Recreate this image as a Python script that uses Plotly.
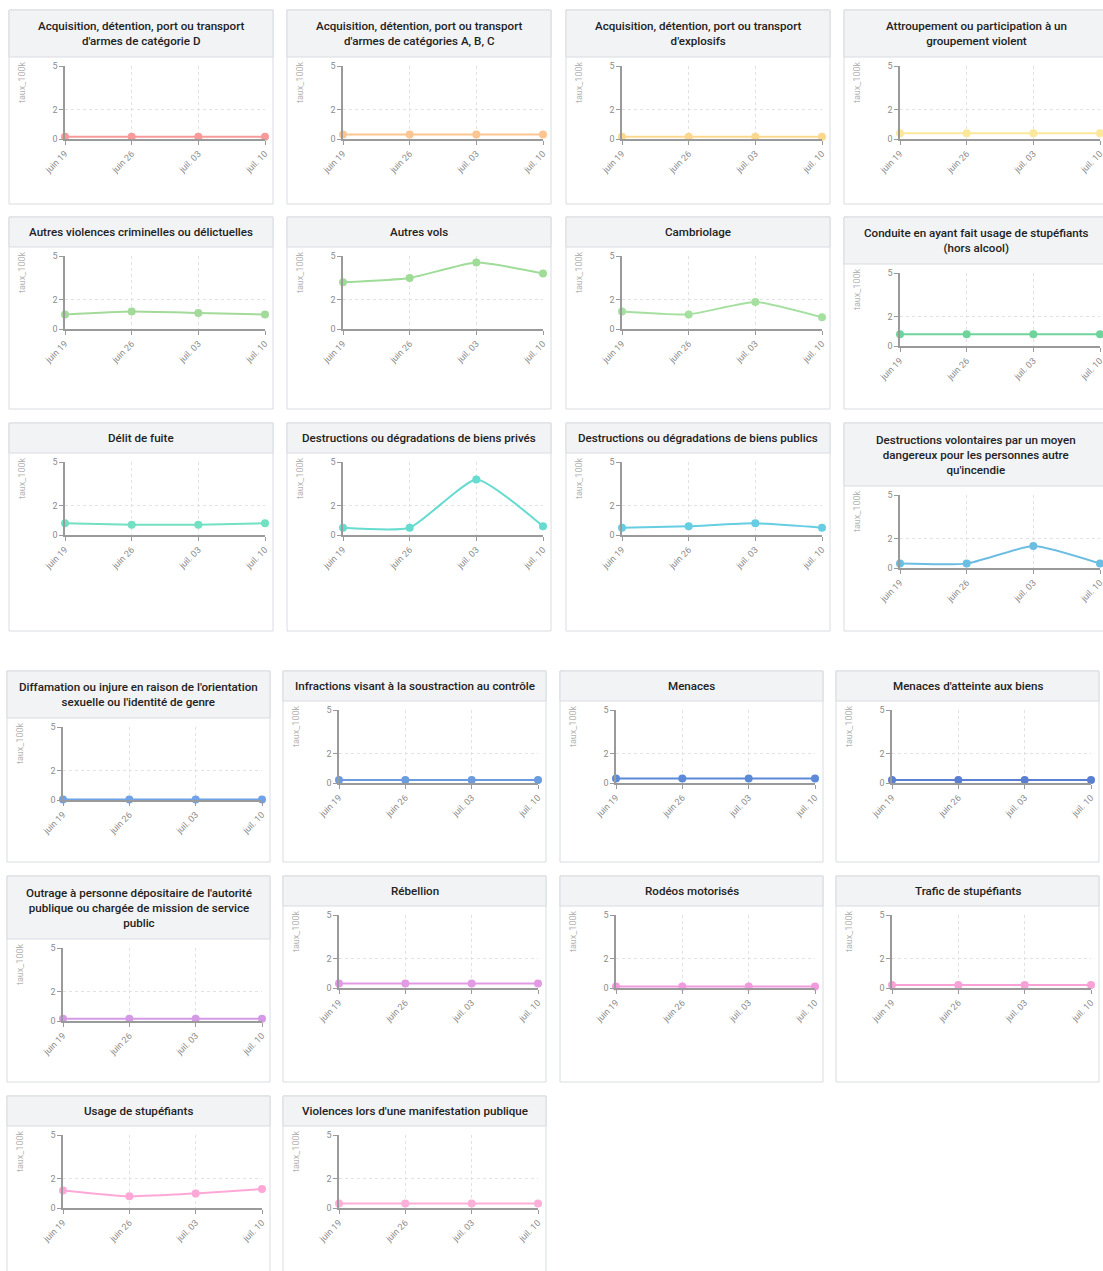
import plotly.graph_objects as go

W, H = 1103, 1271

# ---------------- data ----------------
weeks = ["juin 19", "juin 26", "juil. 03", "juil. 10"]
y_tickvals = [0, 2, 5]

categories = [
    "Acquisition, détention, port ou transport<br>d'armes de catégorie D",
    "Acquisition, détention, port ou transport<br>d'armes de catégories A, B, C",
    "Acquisition, détention, port ou transport<br>d'explosifs",
    "Attroupement ou participation à un<br>groupement violent",
    "Autres violences criminelles ou délictuelles",
    "Autres vols",
    "Cambriolage",
    "Conduite en ayant fait usage de stupéfiants<br>(hors alcool)",
    "Délit de fuite",
    "Destructions ou dégradations de biens privés",
    "Destructions ou dégradations de biens publics",
    "Destructions volontaires par un moyen<br>dangereux pour les personnes autre<br>qu'incendie",
    "Diffamation ou injure en raison de l'orientation<br>sexuelle ou l'identité de genre",
    "Infractions visant à la soustraction au contrôle",
    "Menaces",
    "Menaces d'atteinte aux biens",
    "Outrage à personne dépositaire de l'autorité<br>publique ou chargée de mission de service<br>public",
    "Rébellion",
    "Rodéos motorisés",
    "Trafic de stupéfiants",
    "Usage de stupéfiants",
    "Violences lors d'une manifestation publique",
]

armes_d = [0.15, 0.15, 0.15, 0.15]
armes_abc = [0.3, 0.3, 0.3, 0.3]
explosifs = [0.15, 0.15, 0.15, 0.15]
attroupement = [0.4, 0.4, 0.4, 0.4]
autres_violences = [1.0, 1.2, 1.1, 1.0]
autres_vols = [3.2, 3.5, 4.55, 3.8]
cambriolage = [1.2, 1.0, 1.85, 0.8]
conduite_stup = [0.8, 0.8, 0.8, 0.8]
delit_fuite = [0.8, 0.7, 0.7, 0.8]
destr_prives = [0.5, 0.5, 3.8, 0.6]
destr_publics = [0.5, 0.6, 0.8, 0.5]
destr_volontaires = [0.3, 0.3, 1.5, 0.3]
diffamation = [0.03, 0.03, 0.03, 0.03]
soustraction = [0.2, 0.2, 0.2, 0.2]
menaces = [0.3, 0.3, 0.3, 0.3]
menaces_biens = [0.2, 0.2, 0.2, 0.2]
outrage = [0.15, 0.15, 0.15, 0.15]
rebellion = [0.3, 0.3, 0.3, 0.3]
rodeos = [0.1, 0.1, 0.1, 0.1]
trafic = [0.2, 0.2, 0.2, 0.2]
usage_stup = [1.2, 0.8, 1.0, 1.3]
violences_manif = [0.3, 0.3, 0.3, 0.3]

series = [armes_d, armes_abc, explosifs, attroupement, autres_violences, autres_vols,
          cambriolage, conduite_stup, delit_fuite, destr_prives, destr_publics,
          destr_volontaires, diffamation, soustraction, menaces, menaces_biens,
          outrage, rebellion, rodeos, trafic, usage_stup, violences_manif]

colors = ["#f99a9a", "#fdc592", "#fcd88f", "#fbe89a", "#a3da9a", "#9fdc98",
          "#a6e0a0", "#6ed49c", "#72e0c2", "#66dbd0", "#66cde2", "#6cbde2",
          "#6fa2e6", "#6a9cdf", "#5b8ad8", "#5a7ed0", "#d49ae6", "#e39ae4",
          "#f29ade", "#f8a2d8", "#ffa8d8", "#ffb0d8"]

# ---------------- layout geometry ----------------
cols1 = [9, 287, 566, 844]
cols2 = [7, 283, 560, 836]
rows = [(10, 204, cols1, 264), (217, 409, cols1, 264), (423, 631, cols1, 264),
        (671, 862, cols2, 263), (876, 1082, cols2, 263), (1096, 1300, cols2, 263)]

FONT = "Roboto"
border = "#d9dce1"
header_bg = "#f2f3f5"
axis_col = "#9a9a9a"
tick_font = dict(family=FONT, size=9, color="#8c8c8c")

def fx(px):
    return px / W

def fy(py):
    return 1 - py / H

fig = go.Figure()
shapes, annotations = [], []
layout_axes = {}

for i, (title, vals, col) in enumerate(zip(categories, series, colors)):
    r, c = divmod(i, 4)
    top, bottom, cols, cw = rows[r]
    cx = cols[c]
    nlines = title.count("<br>") + 1
    hb = top + 14 + 16 * nlines + (1 if nlines > 1 else 0)
    # card
    shapes.append(dict(type="rect", xref="paper", yref="paper", layer="below",
                       x0=fx(cx), x1=fx(cx + cw), y0=fy(bottom), y1=fy(top),
                       fillcolor="white", line=dict(color=border, width=1)))
    shapes.append(dict(type="rect", xref="paper", yref="paper", layer="below",
                       x0=fx(cx), x1=fx(cx + cw), y0=fy(hb), y1=fy(top),
                       fillcolor=header_bg, line=dict(color=border, width=1)))
    annotations.append(dict(xref="paper", yref="paper", x=fx(cx + cw / 2), y=fy((top + hb) / 2),
                            text=title, showarrow=False, xanchor="center", yanchor="middle",
                            align="center",
                            font=dict(family=FONT, size=11.6, color="#222", weight=500)))
    annotations.append(dict(xref="paper", yref="paper", x=fx(cx + 13), y=fy(hb + 2),
                            text="taux_100k", showarrow=False, textangle=-90,
                            xanchor="center", yanchor="top",
                            font=dict(family=FONT, size=9, color="#b5b5b5")))
    # plot area
    p_top = hb + 9
    p_bot = p_top + 73
    px0 = cx + 56
    px1 = cx + cw - 8
    n = i + 1
    xa = "xaxis" if n == 1 else f"xaxis{n}"
    ya = "yaxis" if n == 1 else f"yaxis{n}"
    xr = "x" if n == 1 else f"x{n}"
    yr = "y" if n == 1 else f"y{n}"
    layout_axes[xa] = dict(domain=[fx(px0), fx(px1)], anchor=yr, type="category",
                           range=[0, 3], showline=True, linecolor=axis_col, linewidth=2,
                           ticks="outside", ticklen=4, tickcolor=axis_col, tickangle=-45,
                           tickfont=tick_font, showgrid=True, gridcolor="#e2e2e2",
                           griddash="dot", gridwidth=1, zeroline=False, fixedrange=True,
                           automargin=False)
    layout_axes[ya] = dict(domain=[fy(p_bot), fy(p_top)], anchor=xr, range=[0, 5],
                           tickvals=y_tickvals, showline=True, linecolor=axis_col,
                           linewidth=1.5, ticks="outside", ticklen=4, tickcolor=axis_col,
                           tickfont=tick_font, showgrid=True, gridcolor="#e2e2e2",
                           griddash="dot", gridwidth=1, zeroline=False, fixedrange=True,
                           automargin=False)
    fig.add_trace(go.Scatter(x=weeks, y=vals, xaxis=xr, yaxis=yr, mode="lines+markers",
                             line=dict(color=col, width=2, shape="spline", smoothing=0.5),
                             marker=dict(color=col, size=8), cliponaxis=False,
                             showlegend=False, hoverinfo="skip"))

fig.update_layout(width=W, height=H, margin=dict(l=0, r=0, t=0, b=0, autoexpand=False),
                  paper_bgcolor="white", plot_bgcolor="rgba(0,0,0,0)",
                  shapes=shapes, annotations=annotations, showlegend=False,
                  font=dict(family=FONT), **layout_axes)

fig.write_html("out.html", config={"displayModeBar": False},
               post_script="document.body.style.margin='0';document.body.style.overflow='hidden';")
